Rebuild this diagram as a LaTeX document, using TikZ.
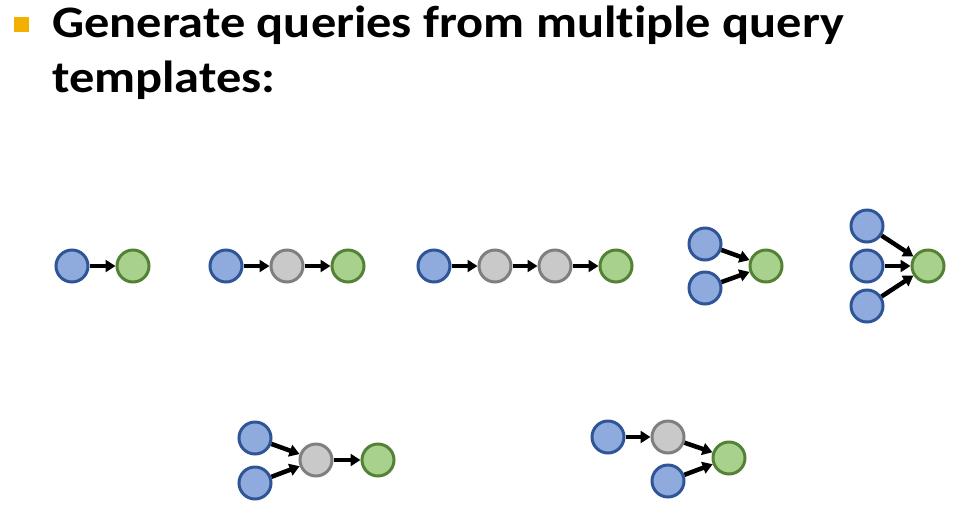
\documentclass[tikz,border=0pt]{standalone}
\usepackage{fontspec}
\setmainfont{Carlito}[Ligatures=NoCommon, FakeStretch=1.12]
\usetikzlibrary{arrows.meta}

\begin{document}
\begin{tikzpicture}[x=1pt,y=-1pt,
  nodo/.style={circle, minimum size=32pt, inner sep=0pt, line width=3pt},
  ancora/.style={nodo, fill=colAnc, draw=colAncBordo},
  variabile/.style={nodo, fill=colVar, draw=colVarBordo},
  obiettivo/.style={nodo, fill=colObi, draw=colObiBordo},
  freccia/.style={line width=4.5pt, -{Triangle[length=10pt,width=12pt]}},
  titolo/.style={anchor=base west, inner sep=0pt, font=\fontsize{45}{54}\selectfont\bfseries}]

% Colori
\definecolor{colAnc}{HTML}{8FAADC}
\definecolor{colAncBordo}{HTML}{2F5597}
\definecolor{colVar}{HTML}{C9C9C9}
\definecolor{colVarBordo}{HTML}{7F7F7F}
\definecolor{colObi}{HTML}{A9D18E}
\definecolor{colObiBordo}{HTML}{548235}
\definecolor{colPunto}{HTML}{F2B000}

\useasboundingbox (0,0) rectangle (966,515);

% Titolo
\fill[colPunto] (14,17) rectangle (29,32);
\node[titolo] (riga1) at (52,37) {Generate queries from multiple query};
\node[titolo] (riga2) at (52,92) {templates:};

% Catena 1
\node[ancora] (a1) at (72,266) {};
\node[obiettivo] (t1) at (133,266) {};
\draw[freccia] (a1) -- (t1);

% Catena 2
\node[ancora] (a2) at (226,266) {};
\node[variabile] (v2) at (287,266) {};
\node[obiettivo] (t2) at (348,266) {};
\draw[freccia] (a2) -- (v2);
\draw[freccia] (v2) -- (t2);

% Catena 3
\node[ancora] (a3) at (434,266) {};
\node[variabile] (v3a) at (495,266) {};
\node[variabile] (v3b) at (555,266) {};
\node[obiettivo] (t3) at (616,266) {};
\draw[freccia] (a3) -- (v3a);
\draw[freccia] (v3a) -- (v3b);
\draw[freccia] (v3b) -- (t3);

% Intersezione di due
\node[ancora] (a4a) at (705,244) {};
\node[ancora] (a4b) at (705,288) {};
\node[obiettivo] (t4) at (766,266) {};
\draw[freccia] (a4a) -- (t4);
\draw[freccia] (a4b) -- (t4);

% Intersezione di tre
\node[ancora] (a5a) at (867,226) {};
\node[ancora] (a5b) at (867,266) {};
\node[ancora] (a5c) at (867,306) {};
\node[obiettivo] (t5) at (928,266) {};
\draw[freccia] (a5a) -- (t5);
\draw[freccia] (a5b) -- (t5);
\draw[freccia] (a5c) -- (t5);

% Intersezione poi catena
\node[ancora] (a6a) at (255,438) {};
\node[ancora] (a6b) at (255,483) {};
\node[variabile] (v6) at (316,460) {};
\node[obiettivo] (t6) at (378,460) {};
\draw[freccia] (a6a) -- (v6);
\draw[freccia] (a6b) -- (v6);
\draw[freccia] (v6) -- (t6);

% Catena poi intersezione
\node[ancora] (a7a) at (608,437) {};
\node[variabile] (v7) at (668,437) {};
\node[ancora] (a7b) at (668,481) {};
\node[obiettivo] (t7) at (729,458) {};
\draw[freccia] (a7a) -- (v7);
\draw[freccia] (v7) -- (t7);
\draw[freccia] (a7b) -- (t7);

\end{tikzpicture}
\end{document}
